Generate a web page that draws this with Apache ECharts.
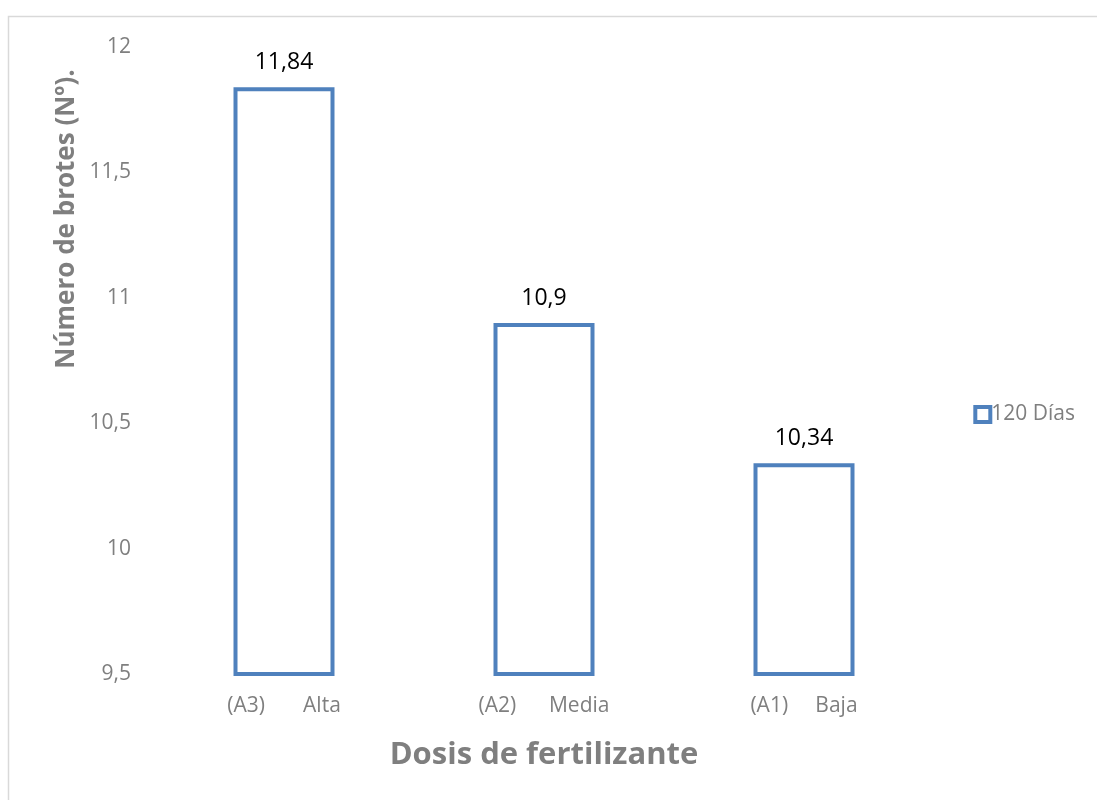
<!DOCTYPE html>
<html><head><meta charset="utf-8">
<script src="https://cdn.jsdelivr.net/npm/echarts@6/dist/echarts.min.js"></script>
<style>html,body{margin:0;padding:0;background:#fff}#c{width:1097px;height:800px}</style>
</head><body><div id="c"></div>
<script>
const categories = ['(A3)       Alta', '(A2)      Media', '(A1)     Baja'];
const values = [11.84, 10.9, 10.34];
const seriesName = '120 Días';
const yTicks = [9.5, 10, 10.5, 11, 11.5, 12];
const fmt = v => String(v).replace('.', ',');
const F = 'Open Sans';
const chart = echarts.init(document.getElementById('c'));
chart.setOption({
  animation: false,
  backgroundColor: '#fff',
  textStyle: { fontFamily: F },
  graphic: [
    { type: 'rect', shape: { x: 8.5, y: 16.5, width: 1100, height: 800 }, style: { fill: 'none', stroke: '#d9d9d9', lineWidth: 1.5 } },
    { type: 'text', x: 67, y: 219, rotation: Math.PI / 2,
      style: { text: 'Número de brotes (Nº).', fill: '#7f7f7f', font: 'bold 26px "Open Sans"', align: 'center', verticalAlign: 'middle' } }
  ],
  legend: {
    data: [seriesName], right: 17, top: 399, orient: 'vertical',
    itemWidth: 15, itemHeight: 15, itemGap: 4,
    textStyle: { color: '#7f7f7f', fontSize: 21, fontFamily: F, padding: [0, 0, 0, -4] },
    icon: 'rect',
    itemStyle: { color: '#fff', borderColor: '#4f81bd', borderWidth: 4 }
  },
  grid: { left: 154, right: 163, top: 47, bottom: 126, containLabel: false },
  xAxis: {
    type: 'category', data: categories,
    axisLine: { show: false }, axisTick: { show: false },
    axisLabel: { color: '#7f7f7f', fontSize: 21, margin: 22, fontFamily: F },
    name: 'Dosis de fertilizante', nameLocation: 'middle', nameGap: 66,
    nameTextStyle: { color: '#7f7f7f', fontSize: 31, fontWeight: 'bold', fontFamily: F }
  },
  yAxis: {
    type: 'value', min: 9.5, max: 12, interval: 0.5,
    axisLine: { show: false }, axisTick: { show: false }, splitLine: { show: false },
    axisLabel: { color: '#7f7f7f', fontSize: 21, margin: 23, fontFamily: F, formatter: v => fmt(v) }
  },
  series: [{
    type: 'bar', name: seriesName, data: values, barWidth: 101,
    itemStyle: { color: '#fff', borderColor: '#4f81bd', borderWidth: 4 },
    label: { show: true, position: 'top', distance: 13, color: '#000', fontSize: 23, fontFamily: F, formatter: p => fmt(p.value) }
  }]
});
</script></body></html>
